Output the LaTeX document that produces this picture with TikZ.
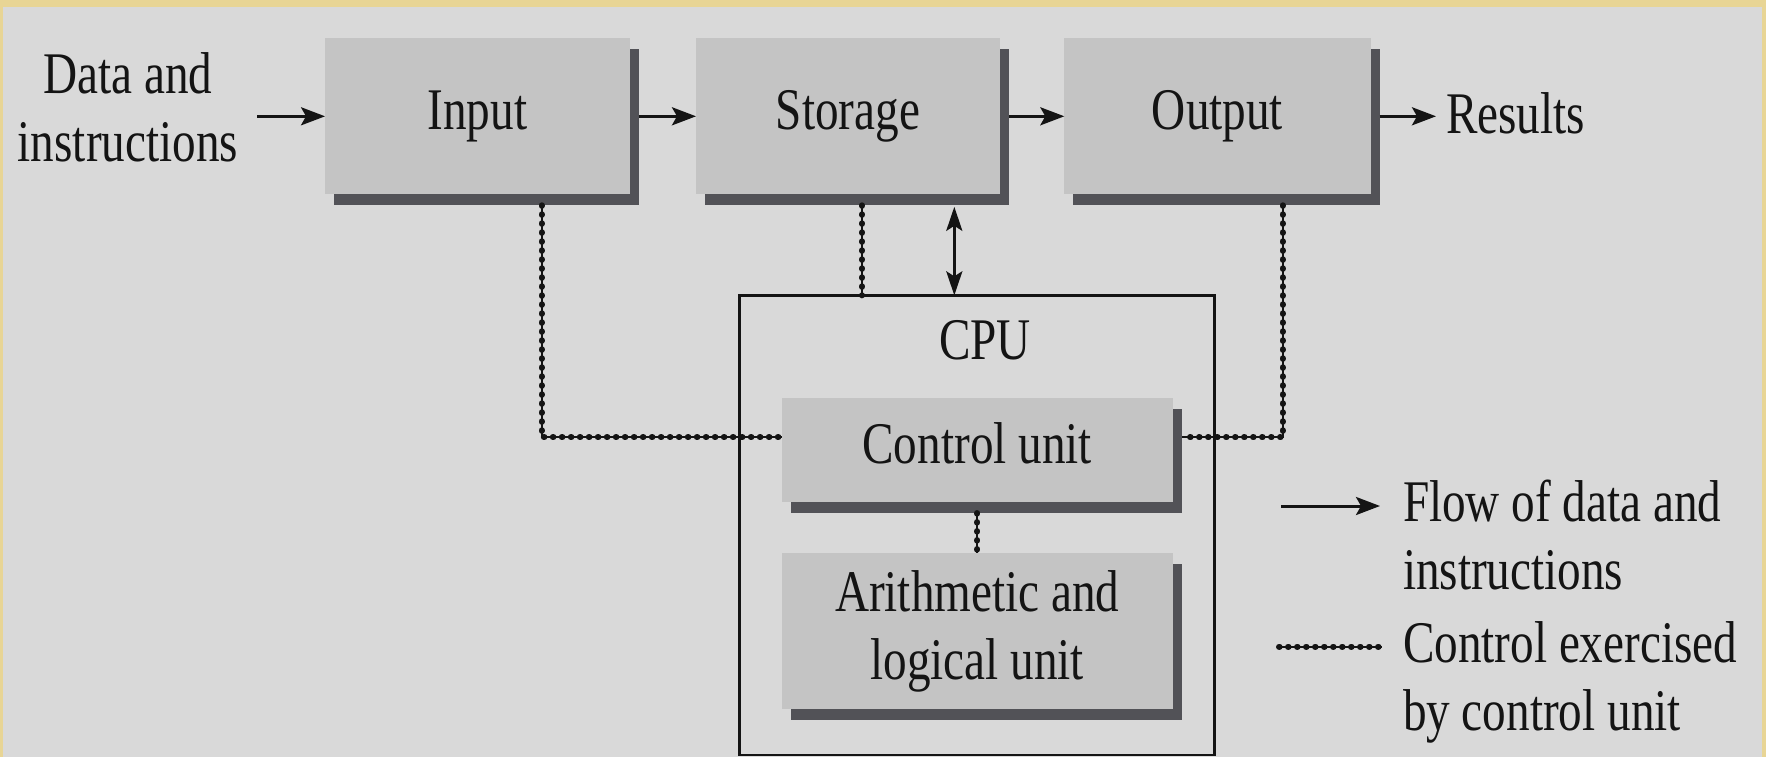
\documentclass[tikz,border=0pt]{standalone}
\usepackage{fontspec}
\setmainfont{Liberation Serif}[FakeStretch=0.8]
\usetikzlibrary{arrows.meta,shadows,calc}
\definecolor{bgyellow}{HTML}{E8D595}
\definecolor{bggray}{HTML}{D9D9D9}
\definecolor{boxgray}{HTML}{C4C4C4}
\definecolor{shadowgray}{HTML}{525257}
\definecolor{ink}{HTML}{141414}
\tikzset{
  txt/.style={font=\fontsize{59}{68}\selectfont, text=ink, inner sep=0pt, outer sep=0pt},
  unitbox/.style={txt, fill=boxgray, general shadow={fill=shadowgray, shadow xshift=9pt, shadow yshift=-11pt}},
  oneline/.style={text height=40pt, text depth=13pt},
  cpubox/.style={draw=ink, line width=2.7pt, inner sep=0pt, outer sep=0pt},
  flow/.style={draw=ink, line width=3pt, -{Stealth[length=24pt,width=18pt,inset=5pt]}},
  flowboth/.style={draw=ink, line width=3pt, {Stealth[length=24pt,width=16pt,inset=5pt]}-{Stealth[length=24pt,width=16pt,inset=5pt]}},
  ctrl/.style={draw=ink, line width=2.2pt, postaction={draw=ink, line width=6pt, line cap=round, dash pattern=on 0.6pt off 8.4pt}},
}
\begin{document}
\begin{tikzpicture}[x=1pt,y=-1pt]
\useasboundingbox (0,0) rectangle (1766,757);
\fill[bgyellow] (0,0) rectangle (1766,757);
\fill[bggray] (3,7) rectangle (1762,757);

% CPU frame
\node[cpubox, minimum width=475pt, minimum height=459.7pt] (cpu) at (976.8,525.2) {};
\node[txt, anchor=base] (cpulbl) at (985,359) {CPU};

% top row
\node[unitbox, oneline, minimum width=304.5pt, minimum height=156pt] (inp) at (477.3,116.3) {Input};
\node[unitbox, oneline, minimum width=304pt, minimum height=156pt] (sto) at (848,116.3) {Storage};
\node[unitbox, oneline, minimum width=306.4pt, minimum height=156pt] (out) at (1217.5,116.3) {Output};

% CPU units
\node[unitbox, oneline, minimum width=391pt, minimum height=103.7pt] (cu) at (977.2,450.2) {Control unit};
\node[unitbox, align=center, minimum width=391pt, minimum height=156.3pt] (alu) at (977.2,630.9) {Arithmetic and\\logical unit};

% outer texts
\node[txt, align=center] (data) at (128,107) {Data and\\instructions};
\node[txt, anchor=base west] (res) at (1446,133) {Results};

% data flow
\draw[flow] ($(data.east |- inp.west)+(19,0)$) -- (inp.west);
\draw[flow] ($(inp.east)+(9,0)$) -- (sto.west);
\draw[flow] ($(sto.east)+(9,0)$) -- (out.west);
\draw[flow] ($(out.east)+(9,0)$) -- ($(res.west |- out.east)+(-10,0)$);
\draw[flowboth] ($(sto.south)+(106.3,12.5)$) coordinate (s2) -- (s2 |- cpu.north);

% control lines
\draw[ctrl] ($(inp.south)+(64.4,11)$) |- ($(cu.west)+(0,-13)$);
\draw[ctrl] ($(sto.south)+(14,11)$) coordinate (s1) -- (s1 |- cpu.north);
\draw[ctrl] ($(out.south)+(65.2,11)$) |- ($(cu.east)+(9,-13)$);
\draw[ctrl] ($(cu.south)+(0,11)$) -- (alu.north);

% legend
\node[txt, align=left, anchor=west] (leg1) at (1403,535.5) {Flow of data and\\instructions};
\node[txt, align=left, anchor=west] (leg2) at (1403,682) {Control exercised\\by control unit};
\coordinate (l1a) at (1281,506);
\coordinate (l1b) at (1380,506);
\draw[flow] (l1a) -- (l1b);
\coordinate (l2a) at (1279,646.7);
\coordinate (l2b) at (1382,646.7);
\draw[ctrl] (l2a) -- (l2b);
\end{tikzpicture}
\end{document}
